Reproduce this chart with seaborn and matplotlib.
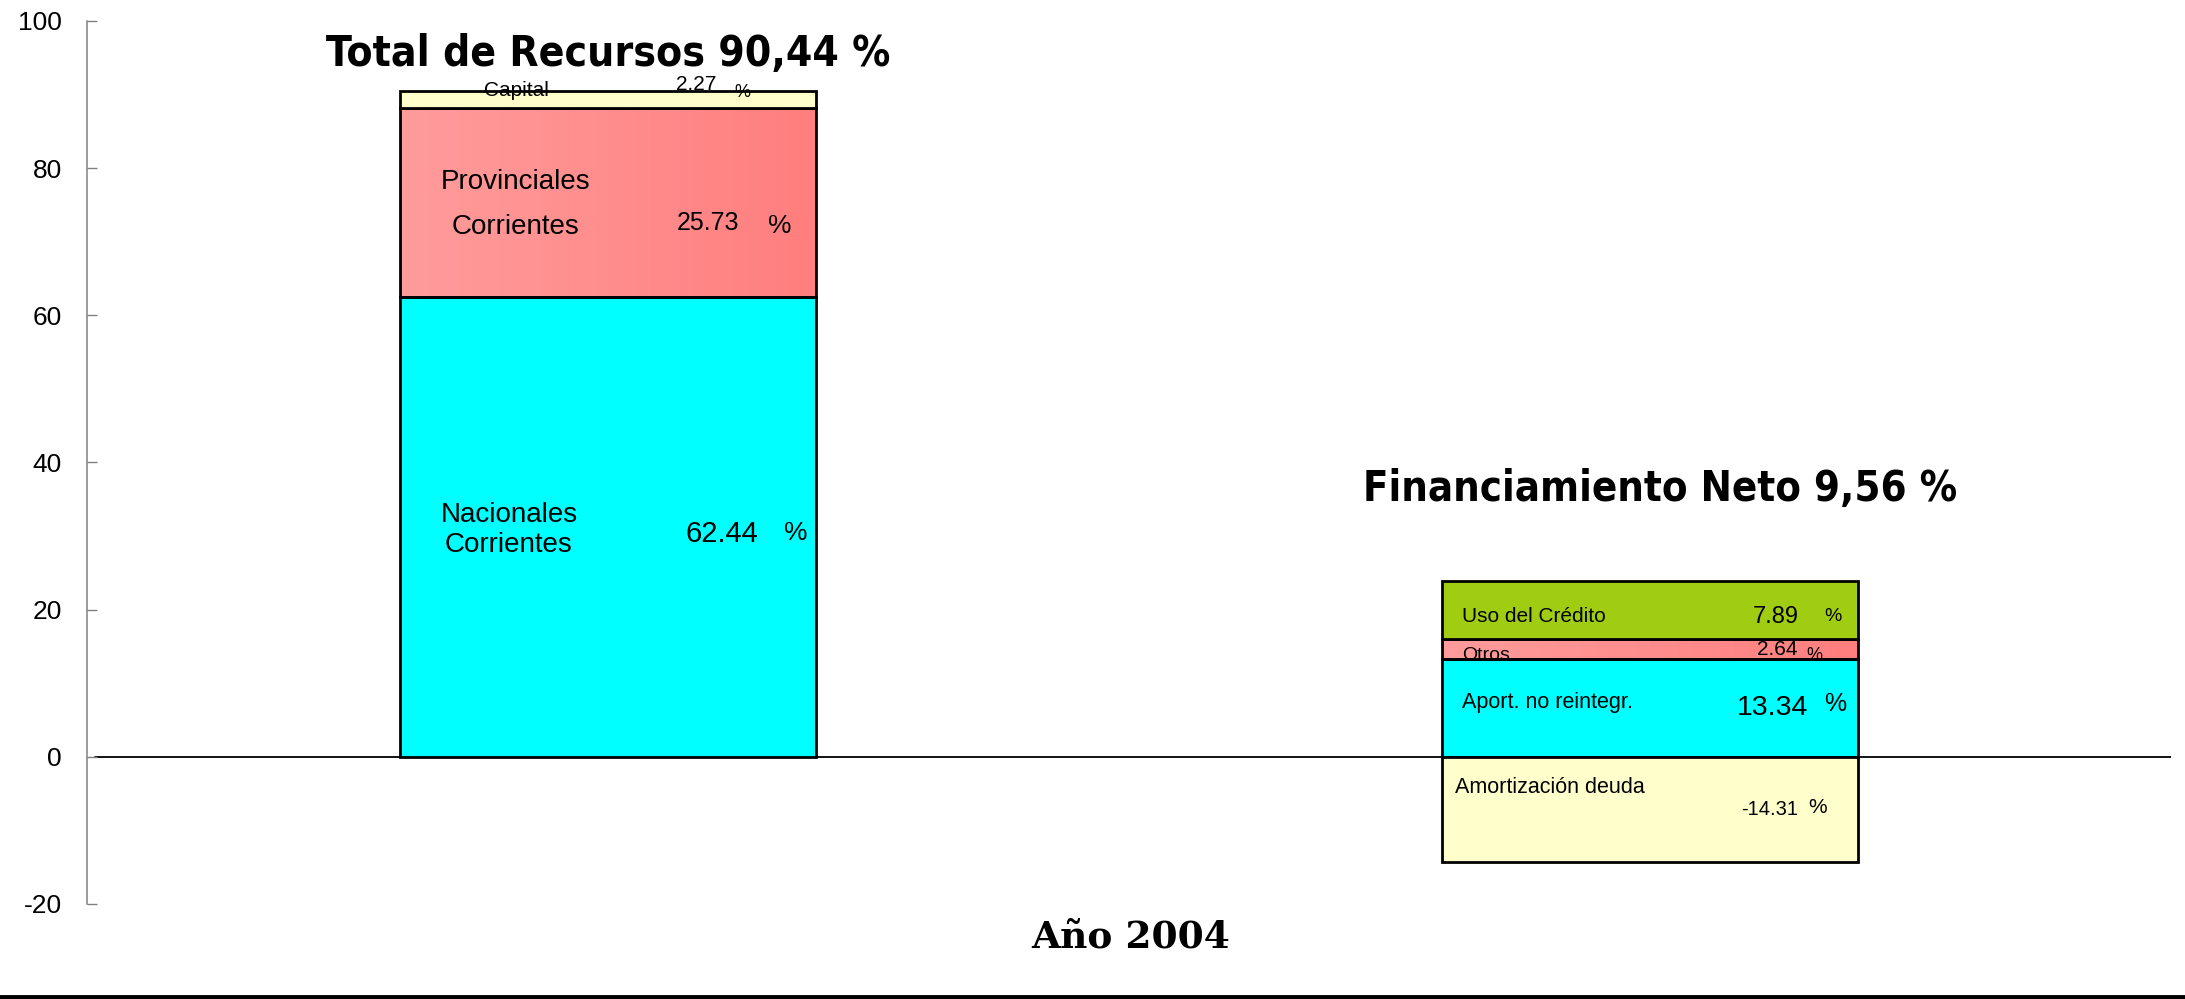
import numpy as np
import matplotlib
matplotlib.use("Agg")
import matplotlib.pyplot as plt
import seaborn as sns
from matplotlib.lines import Line2D
from matplotlib.colors import LinearSegmentedColormap

# datos del grafico (porcentajes, año 2004)
categories = ["Total de Recursos", "Financiamiento Neto"]

recursos_labels = ["Nacionales\nCorrientes", "Provinciales\nCorrientes", "Capital"]
recursos_values = [62.44, 25.73, 2.27]

financ_labels = ["Aport. no reintegr.", "Otros", "Uso del Crédito", "Amortización deuda"]
financ_values = [13.34, 2.64, 7.89, -14.31]

year_label = "Año 2004"
y_ticks = [-20, 0, 20, 40, 60, 80, 100]

recursos_colors = ["#00FFFF", "rosa", "#FFFFCC"]
financ_colors = ["#00FFFF", "rosa", "#A0CC12", "#FFFFCC"]
rosa = LinearSegmentedColormap.from_list("rosa", ["#FF9C9C", "#FF7E7E"])

sns.set_theme(style="white")
plt.rcParams["font.family"] = ["Liberation Sans", "DejaVu Sans"]
plt.rcParams["text.color"] = "black"
plt.rcParams["axes.unicode_minus"] = False

fig = plt.figure(figsize=(21.85, 9.99), dpi=100)
ax = fig.add_axes([0.0398, 0.0951, 0.9538, 0.8839])


def stack_bottoms(values):
    pos = 0.0
    out = []
    for v in values:
        if v >= 0:
            out.append(pos)
            pos += v
        else:
            out.append(0.0)
    return out


def draw_segment(cat, value, bottom, color):
    fill = rosa(0.5) if color == "rosa" else color
    sns.barplot(x=[cat], y=[value], order=categories, bottom=bottom, width=0.4,
                color=fill, saturation=1, edgecolor="black", linewidth=2,
                errorbar=None, ax=ax)
    patch = ax.patches[-1]
    if color == "rosa":
        # relleno degradado como en el original
        x0, y0 = patch.get_x(), patch.get_y()
        w, h = patch.get_width(), patch.get_height()
        grad = np.linspace(0, 1, 256).reshape(1, -1)
        im = ax.imshow(grad, cmap=rosa, extent=[x0, x0 + w, y0, y0 + h],
                       aspect="auto", zorder=0.9)
        im.set_clip_path(patch)
        patch.set_facecolor("none")


for v, b, c in zip(recursos_values, stack_bottoms(recursos_values), recursos_colors):
    draw_segment(categories[0], v, b, c)
for v, b, c in zip(financ_values, stack_bottoms(financ_values), financ_colors):
    draw_segment(categories[1], v, b, c)

ax.axhline(0, xmin=0.004, xmax=1, color="black", lw=1.3, zorder=0.5)


# etiquetas dentro de las barras
def label(x, y, s, size, ha="center", va="baseline", ls=1.2):
    ax.text(x, y, s, fontsize=size, ha=ha, va=va, color="black",
            multialignment="center", linespacing=ls, zorder=5)


# recursos
label(-0.095, 27.8, recursos_labels[0], 20)
label(0.109, 29.2, f"{recursos_values[0]:.2f}", 21)
label(0.180, 29.5, "%", 19)
label(-0.089, 71.1, recursos_labels[1], 20, ls=1.95)
label(0.096, 71.6, f"{recursos_values[1]:.2f}", 18)
label(0.165, 71.2, "%", 19)
label(-0.088, 90.6, recursos_labels[2], 15, va="center")
label(0.085, 91.4, f"{recursos_values[2]:.2f}", 15, va="center")
label(0.129, 90.3, "%", 13, va="center")

# financiamiento
label(0.820, 6.66, financ_labels[0], 15.5, ha="left")
label(1.118, 5.7, f"{financ_values[0]:.2f}", 20.5)
label(1.178, 6.25, "%", 18)
label(0.820, 13.2, financ_labels[1], 14, ha="left")
label(1.122, 13.9, f"{financ_values[1]:.2f}", 15)
label(1.158, 13.2, "%", 13)
label(0.820, 18.3, financ_labels[2], 15, ha="left")
label(1.121, 18.2, f"{financ_values[2]:.2f}", 17)
label(1.176, 18.5, "%", 14)
label(0.813, -4.9, financ_labels[3], 15.5, ha="left")
label(1.115, -7.9, f"{financ_values[3]:.2f}", 14.5)
label(1.161, -7.7, "%", 15)

# titulos de cada barra
tot_rec = f"{sum(recursos_values):.2f}".replace(".", ",")
tot_fin = f"{sum(financ_values):.2f}".replace(".", ",")
ax.text(0.0, 93.9, f"{categories[0]} {tot_rec} %", fontsize=30.5, weight="bold",
        family="DejaVu Sans", fontstretch="condensed", ha="center", va="baseline")
ax.text(1.010, 34.8, f"{categories[1]} {tot_fin} %", fontsize=30, weight="bold",
        family="DejaVu Sans", fontstretch="condensed", ha="center", va="baseline")

ax.set_xlim(-0.5, 1.5)
ax.set_ylim(-20, 100)
ax.set_yticks(y_ticks)
ax.set_xticks([])
ax.set_xlabel("")
ax.set_ylabel("")
for side in ["top", "right", "bottom"]:
    ax.spines[side].set_visible(False)
ax.spines["left"].set_color("#808080")
ax.spines["left"].set_linewidth(1.1)
ax.tick_params(axis="y", direction="in", length=7, width=1, color="#808080",
               labelsize=19, pad=18, labelcolor="black", left=True)
ax.patch.set_alpha(0)

fig.text(0.5176, 0.052, year_label, fontsize=27, weight="bold",
         family=["DejaVu Serif"], ha="center", va="baseline")
fig.add_artist(Line2D([0, 1], [0.0025, 0.0025], transform=fig.transFigure,
                      color="black", lw=3.5))

fig.savefig("out.png", dpi=100)
